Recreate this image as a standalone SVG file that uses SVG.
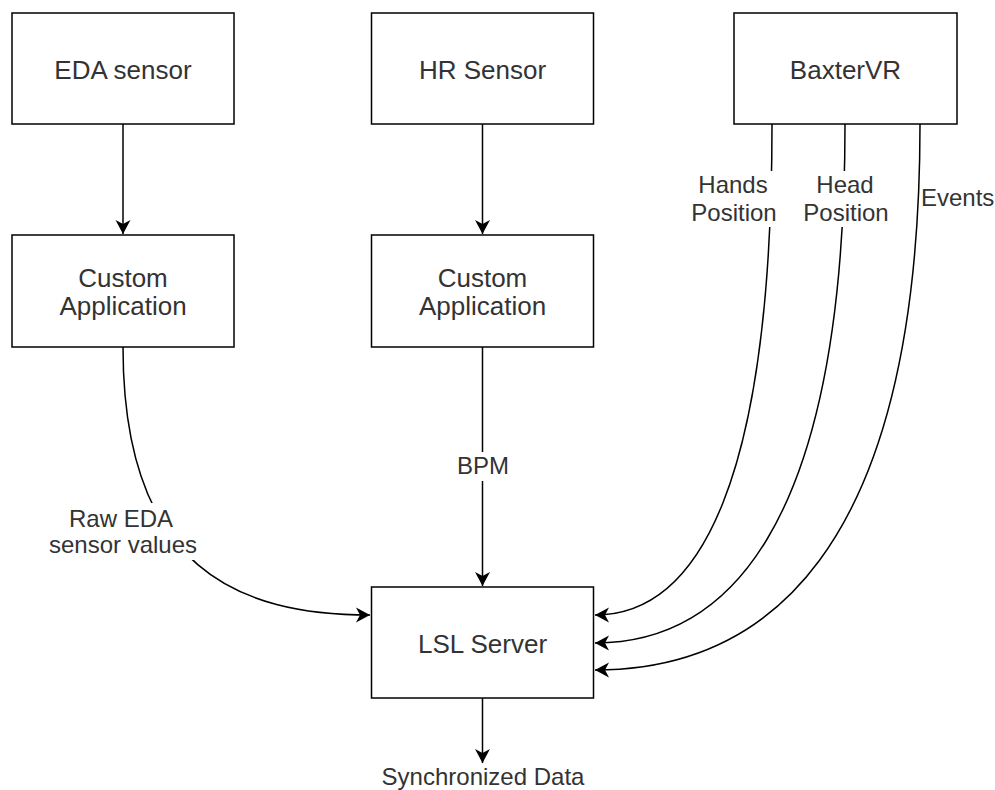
<svg xmlns="http://www.w3.org/2000/svg" width="995" height="790" viewBox="0 0 995 790">
  <style>
    .box { fill: #ffffff; stroke: #000000; stroke-width: 1.5; }
    .edge { fill: none; stroke: #000000; stroke-width: 1.5; }
    .title { font-family: "Liberation Sans", Arial, sans-serif; font-size: 26px; fill: #333333; text-anchor: middle; }
    .lbl { font-family: "Liberation Sans", Arial, sans-serif; font-size: 24px; fill: #333333; text-anchor: middle; }
    .lblbg { fill: #ffffff; stroke: none; }
  </style>
  <defs>
    <marker id="arrow" markerUnits="userSpaceOnUse" markerWidth="18" markerHeight="18" refX="14" refY="8" orient="auto">
      <path d="M0,0.5 L14,8 L0,15.5 L4,8 Z" fill="#000000"/>
    </marker>
  </defs>
  <rect width="995" height="790" fill="#ffffff"/>

  <!-- connectors -->
  <g id="connectors">
    <path class="edge" d="M123,124 L123,234" marker-end="url(#arrow)"/>
    <path class="edge" d="M482.5,124 L482.5,234" marker-end="url(#arrow)"/>
    <path class="edge" d="M482.5,347 L482.5,586" marker-end="url(#arrow)"/>
    <path class="edge" d="M123,347 C123,570 240,615 370,615" marker-end="url(#arrow)"/>
    <path class="edge" d="M482.5,698 L482.5,763" marker-end="url(#arrow)"/>
    <path class="edge" d="M772,124 C772,480 700,615 595,615" marker-end="url(#arrow)"/>
    <path class="edge" d="M845,124 C845,540 720,643 595,643" marker-end="url(#arrow)"/>
    <path class="edge" d="M920,124 C920,560 760,670 595,670" marker-end="url(#arrow)"/>

    <!-- edge labels -->
    <rect class="lblbg" x="455" y="452" width="55" height="29"/>
    <text class="lbl" x="483" y="474">BPM</text>

    <rect class="lblbg" x="48" y="503" width="150" height="57"/>
    <text class="lbl" x="121" y="527">Raw EDA</text>
    <text class="lbl" x="123" y="553">sensor values</text>

    <rect class="lblbg" x="690" y="171" width="88" height="56"/>
    <text class="lbl" x="733" y="193">Hands</text>
    <text class="lbl" x="734" y="221">Position</text>

    <rect class="lblbg" x="803" y="171" width="86" height="56"/>
    <text class="lbl" x="845" y="193">Head</text>
    <text class="lbl" x="846" y="221">Position</text>

    <text class="lbl" x="921" y="206" style="text-anchor:start">Events</text>

    <text class="lbl" x="483" y="785">Synchronized Data</text>
  </g>

  <!-- nodes -->
  <g id="eda-sensor">
    <rect class="box" x="12" y="13" width="222" height="111"/>
    <text class="title" x="123" y="79">EDA sensor</text>
  </g>
  <g id="hr-sensor">
    <rect class="box" x="371.5" y="13" width="222" height="111"/>
    <text class="title" x="482.5" y="79">HR Sensor</text>
  </g>
  <g id="baxtervr">
    <rect class="box" x="734" y="13" width="223" height="111"/>
    <text class="title" x="845.5" y="79">BaxterVR</text>
  </g>
  <g id="eda-app">
    <rect class="box" x="12" y="235" width="222" height="112"/>
    <text class="title" x="123" y="287">Custom</text>
    <text class="title" x="123" y="315">Application</text>
  </g>
  <g id="hr-app">
    <rect class="box" x="371.5" y="235" width="222" height="112"/>
    <text class="title" x="482.5" y="287">Custom</text>
    <text class="title" x="482.5" y="315">Application</text>
  </g>
  <g id="lsl-server">
    <rect class="box" x="371.5" y="587" width="222" height="111"/>
    <text class="title" x="482.5" y="653">LSL Server</text>
  </g>
</svg>
